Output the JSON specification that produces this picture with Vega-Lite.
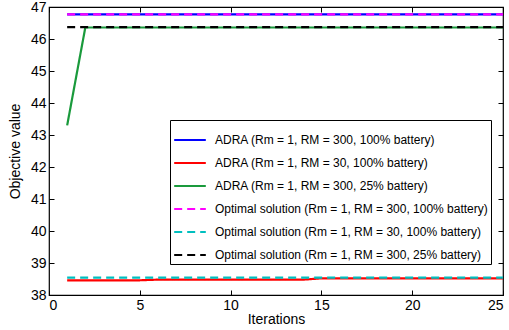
{
  "$schema": "https://vega.github.io/schema/vega-lite/v6.json",
  "width": 454,
  "height": 288,
  "autosize": "none",
  "padding": {"left": 49, "top": 7, "right": 6, "bottom": 35},
  "background": "white",
  "config": {
    "font": "Liberation Sans",
    "view": {"stroke": "black", "strokeWidth": 1.2},
    "axis": {"grid": false, "domain": false, "tickColor": "black", "labelColor": "black", "titleColor": "black", "labelFont": "Liberation Sans", "titleFont": "Liberation Sans", "titleFontWeight": "normal"}
  },
  "datasets": {
    "lines": [
      {"series": "ADRA (Rm = 1, RM = 300, 100% battery)", "iteration": 1, "value": 46.77},
      {"series": "ADRA (Rm = 1, RM = 300, 100% battery)", "iteration": 25, "value": 46.77},
      {"series": "ADRA (Rm = 1, RM = 30, 100% battery)", "iteration": 1, "value": 38.46},
      {"series": "ADRA (Rm = 1, RM = 30, 100% battery)", "iteration": 2, "value": 38.46},
      {"series": "ADRA (Rm = 1, RM = 30, 100% battery)", "iteration": 3, "value": 38.46},
      {"series": "ADRA (Rm = 1, RM = 30, 100% battery)", "iteration": 4, "value": 38.46},
      {"series": "ADRA (Rm = 1, RM = 30, 100% battery)", "iteration": 5, "value": 38.46},
      {"series": "ADRA (Rm = 1, RM = 30, 100% battery)", "iteration": 6, "value": 38.48},
      {"series": "ADRA (Rm = 1, RM = 30, 100% battery)", "iteration": 7, "value": 38.48},
      {"series": "ADRA (Rm = 1, RM = 30, 100% battery)", "iteration": 8, "value": 38.48},
      {"series": "ADRA (Rm = 1, RM = 30, 100% battery)", "iteration": 9, "value": 38.48},
      {"series": "ADRA (Rm = 1, RM = 30, 100% battery)", "iteration": 10, "value": 38.48},
      {"series": "ADRA (Rm = 1, RM = 30, 100% battery)", "iteration": 11, "value": 38.48},
      {"series": "ADRA (Rm = 1, RM = 30, 100% battery)", "iteration": 12, "value": 38.48},
      {"series": "ADRA (Rm = 1, RM = 30, 100% battery)", "iteration": 13, "value": 38.48},
      {"series": "ADRA (Rm = 1, RM = 30, 100% battery)", "iteration": 14, "value": 38.48},
      {"series": "ADRA (Rm = 1, RM = 30, 100% battery)", "iteration": 15, "value": 38.52},
      {"series": "ADRA (Rm = 1, RM = 30, 100% battery)", "iteration": 16, "value": 38.52},
      {"series": "ADRA (Rm = 1, RM = 30, 100% battery)", "iteration": 17, "value": 38.52},
      {"series": "ADRA (Rm = 1, RM = 30, 100% battery)", "iteration": 18, "value": 38.52},
      {"series": "ADRA (Rm = 1, RM = 30, 100% battery)", "iteration": 19, "value": 38.52},
      {"series": "ADRA (Rm = 1, RM = 30, 100% battery)", "iteration": 20, "value": 38.52},
      {"series": "ADRA (Rm = 1, RM = 30, 100% battery)", "iteration": 21, "value": 38.52},
      {"series": "ADRA (Rm = 1, RM = 30, 100% battery)", "iteration": 22, "value": 38.52},
      {"series": "ADRA (Rm = 1, RM = 30, 100% battery)", "iteration": 23, "value": 38.52},
      {"series": "ADRA (Rm = 1, RM = 30, 100% battery)", "iteration": 24, "value": 38.52},
      {"series": "ADRA (Rm = 1, RM = 30, 100% battery)", "iteration": 25, "value": 38.52},
      {"series": "ADRA (Rm = 1, RM = 300, 25% battery)", "iteration": 1, "value": 43.3},
      {"series": "ADRA (Rm = 1, RM = 300, 25% battery)", "iteration": 2, "value": 46.36},
      {"series": "ADRA (Rm = 1, RM = 300, 25% battery)", "iteration": 25, "value": 46.36},
      {"series": "Optimal solution (Rm = 1, RM = 300, 100% battery)", "iteration": 1, "value": 46.77},
      {"series": "Optimal solution (Rm = 1, RM = 300, 100% battery)", "iteration": 25, "value": 46.77},
      {"series": "Optimal solution (Rm = 1, RM = 30, 100% battery)", "iteration": 1, "value": 38.54},
      {"series": "Optimal solution (Rm = 1, RM = 30, 100% battery)", "iteration": 25, "value": 38.54},
      {"series": "Optimal solution (Rm = 1, RM = 300, 25% battery)", "iteration": 1, "value": 46.37},
      {"series": "Optimal solution (Rm = 1, RM = 300, 25% battery)", "iteration": 25, "value": 46.37}
    ]
  },
  "data": {"name": "lines"},
  "layer": [
    {
      "mark": {"type": "line", "strokeWidth": 2.2, "clip": true},
      "encoding": {
        "x": {"field": "iteration", "type": "quantitative", "scale": {"domain": [0, 25], "nice": false},
          "axis": {"values": [0, 5, 10, 15, 20, 25], "title": "Iterations", "labelFontSize": 14, "titleFontSize": 14, "tickSize": -5, "labelPadding": 8, "titlePadding": 0}},
        "y": {"field": "value", "type": "quantitative", "scale": {"domain": [38, 47], "nice": false, "zero": false},
          "axis": {"values": [38, 39, 40, 41, 42, 43, 44, 45, 46, 47], "title": "Objective value", "labelFontSize": 14, "titleFontSize": 14, "tickSize": -5, "labelPadding": 8, "titlePadding": 8}},
        "color": {"field": "series", "type": "nominal",
          "scale": {"domain": [
            "ADRA (Rm = 1, RM = 300, 100% battery)",
            "ADRA (Rm = 1, RM = 30, 100% battery)",
            "ADRA (Rm = 1, RM = 300, 25% battery)",
            "Optimal solution (Rm = 1, RM = 300, 100% battery)",
            "Optimal solution (Rm = 1, RM = 30, 100% battery)",
            "Optimal solution (Rm = 1, RM = 300, 25% battery)"],
            "range": ["#0000ff", "#ff0000", "#1a9a3c", "#ff00ff", "#00bfbf", "#000000"]},
          "legend": {"orient": "none", "legendX": 121, "legendY": 113, "title": null, "strokeColor": "black", "fillColor": "white", "padding": 3,
            "symbolType": "stroke", "symbolSize": 1000, "symbolStrokeWidth": 2.2, "labelFontSize": 12, "labelLimit": 400, "rowPadding": 0, "labelOffset": 8, "labelColor": "black", "cornerRadius": 0}},
        "strokeDash": {"field": "series", "type": "nominal",
          "scale": {"domain": [
            "ADRA (Rm = 1, RM = 300, 100% battery)",
            "ADRA (Rm = 1, RM = 30, 100% battery)",
            "ADRA (Rm = 1, RM = 300, 25% battery)",
            "Optimal solution (Rm = 1, RM = 300, 100% battery)",
            "Optimal solution (Rm = 1, RM = 30, 100% battery)",
            "Optimal solution (Rm = 1, RM = 300, 25% battery)"],
            "range": [[1, 0], [1, 0], [1, 0], [8, 5], [8, 5], [8, 5]]},
          "legend": null}
      }
    },
    {
      "mark": {"type": "point", "opacity": 0},
      "encoding": {
        "x": {"field": "iteration", "type": "quantitative", "scale": {"domain": [0, 25], "nice": false},
          "axis": {"orient": "top", "values": [0, 5, 10, 15, 20, 25], "labels": false, "title": null, "tickSize": -5}},
        "y": {"field": "value", "type": "quantitative", "scale": {"domain": [38, 47], "nice": false, "zero": false},
          "axis": {"orient": "right", "values": [38, 39, 40, 41, 42, 43, 44, 45, 46, 47], "labels": false, "title": null, "tickSize": -5}}
      }
    }
  ],
  "resolve": {"axis": {"x": "independent", "y": "independent"}}
}
